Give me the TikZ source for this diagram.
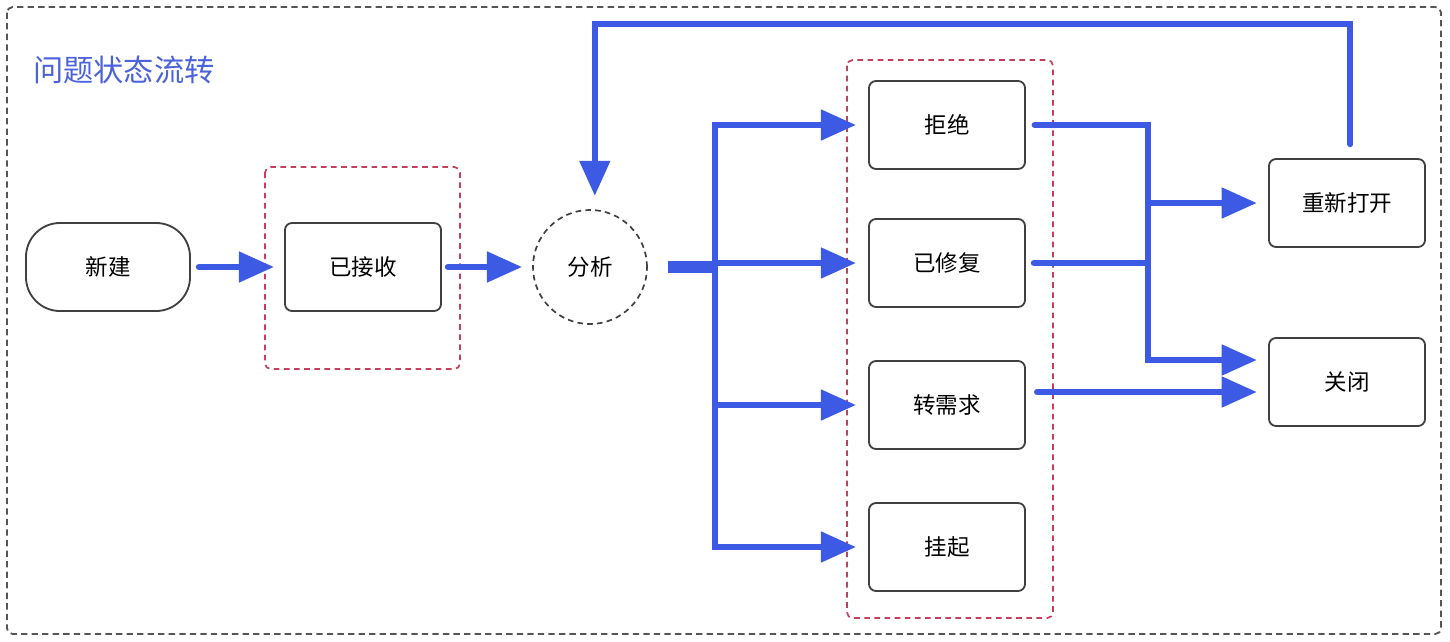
\documentclass[tikz,border=0pt]{standalone}
\usepackage{fontspec}
\newfontfamily\cjk{Noto Sans CJK SC}
\usepackage{tikz}
\usetikzlibrary{arrows.meta,calc}
\definecolor{framegray}{HTML}{555555}
\definecolor{grpred}{HTML}{C2405C}
\definecolor{edge}{HTML}{404040}
\definecolor{flowblue}{HTML}{3D5AE5}
\definecolor{ttlblue}{HTML}{4C62DA}
\tikzset{
  frame/.style={draw=framegray, line width=1.3pt, dash pattern=on 4.5pt off 3pt, rounded corners=4pt},
  grp/.style={draw=grpred, line width=1.2pt, dash pattern=on 4pt off 3.2pt, rounded corners=4pt},
  lab/.style={text=black, font=\cjk\fontsize{16}{19}\selectfont},
  state/.style={lab, draw=edge, line width=1.3pt, rounded corners=5pt, minimum width=3.9cm, minimum height=2.2cm},
  start/.style={state, rounded corners=0.85cm, minimum width=4.1cm},
  ring/.style={lab, circle, draw=edge, line width=1.2pt, dash pattern=on 4pt off 3pt, minimum size=2.85cm},
  ttl/.style={text=ttlblue, font=\cjk\fontsize{21.5}{25}\selectfont, anchor=west, inner sep=0pt},
  link/.style={draw=flowblue, line width=4.5pt, line cap=round},
  flow/.style={link, -{Triangle[length=25pt,width=21pt]}},
  stub/.style={draw=flowblue, line width=8.5pt, line cap=butt}
}

\begin{document}
\begin{tikzpicture}[x=0.025cm, y=-0.025cm]
  \useasboundingbox (0,0) rectangle (1450,642);
  \draw[frame] (7,7) rectangle (1441,634);
  \node[ttl] (title) at (33,70) {问题状态流转};
  % groups
  \draw[grp] (265,167) rectangle (460,369);
  \draw[grp] (847,60) rectangle (1053,618);
  % states
  \node[start] (new) at (108,267) {新建};
  \node[state] (recv) at (363,267) {已接收};
  \node[ring] (ana) at (590,267) {分析};
  \node[state] (reject) at (947,125) {拒绝};
  \node[state] (fixed) at (947,263) {已修复};
  \node[state] (demand) at (947,405) {转需求};
  \node[state] (hold) at (947,547) {挂起};
  \node[state] (reopen) at (1347,203) {重新打开};
  \node[state] (close) at (1347,382) {关闭};
  \coordinate (fork) at (715,267);
  \coordinate (bus) at (1148,203);
  \coordinate (loop) at (1000,24);
  \coordinate (closeA) at ([yshift=0.55cm]close.west);
  \coordinate (closeB) at ([yshift=-0.25cm]close.west);
  % flow
  \draw[flow, shorten <=0.2cm, shorten >=0.25cm] (new) -- (recv);
  \draw[flow, shorten <=0.15cm, shorten >=0.25cm] (recv) -- (ana);
  \draw[stub, shorten <=0.5cm] (ana) -- (fork);
  \foreach \s in {reject,fixed,demand,hold}
    \draw[flow, shorten >=0.3cm] (fork) |- (\s.west);
  \draw[flow, shorten <=0.22cm, shorten >=0.28cm] (reject.east) -| (bus) |- (closeA);
  \draw[link, shorten <=0.2cm] (fixed.east) -- (fixed.east -| bus);
  \draw[flow, shorten >=0.28cm] (bus) -- (reopen.west);
  \draw[flow, shorten <=0.28cm, shorten >=0.28cm] (demand.east |- closeB) -- (closeB);
  \draw[flow, shorten <=0.35cm, shorten >=0.33cm] ([xshift=0.08cm]reopen.north) |- (loop) -| ([xshift=0.12cm]ana.north);
\end{tikzpicture}
\end{document}
